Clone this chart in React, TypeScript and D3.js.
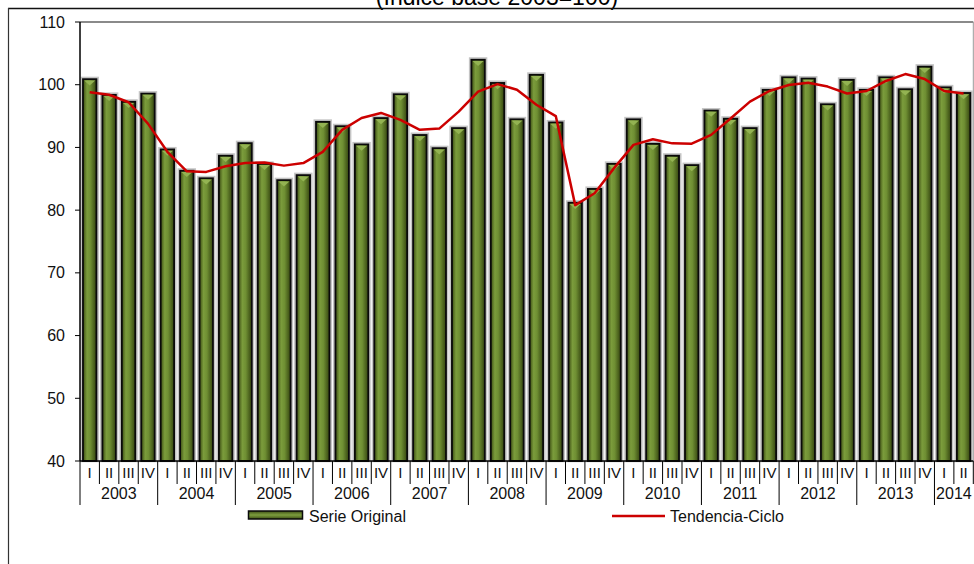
import * as d3 from "d3";

const years = ["2003", "2004", "2005", "2006", "2007", "2008", "2009", "2010", "2011", "2012", "2013", "2014"];
const quarters = ["I", "II", "III", "IV"];
const serieOriginal = [
  101.0, 98.5, 97.4, 98.7, 89.8, 86.4, 85.2, 88.8, 90.8, 87.5, 84.9, 85.7,
  94.2, 93.5, 90.6, 94.8, 98.6, 92.1, 90.0, 93.2, 104.1, 100.4, 94.6, 101.7,
  94.1, 81.3, 83.5, 87.5, 94.6, 90.7, 88.8, 87.3, 96.0, 94.7, 93.2, 99.3,
  101.3, 101.1, 97.0, 100.9, 99.3, 101.3, 99.4, 103.0, 99.7, 98.8,
];
const tendenciaCiclo = [
  98.8, 98.4, 97.2, 93.8, 89.3, 86.2, 86.1, 87.0, 87.5, 87.6, 87.1, 87.5,
  89.3, 92.8, 94.7, 95.5, 94.4, 92.8, 93.0, 95.7, 98.9, 100.1, 99.2, 96.8,
  95.0, 80.8, 82.7, 86.7, 90.4, 91.3, 90.65, 90.6, 92.0, 94.6, 97.3, 99.0,
  99.95, 100.3, 99.7, 98.6, 99.0, 100.6, 101.7, 100.9, 99.0, 98.6,
];
const yTicks = [40, 50, 60, 70, 80, 90, 100, 110];

const W = 974;
const H = 564;
const left = 80;
const right = 973.3;
const top = 22;
const bottom = 461;

const App = () => {
  const n = serieOriginal.length;
  const idx = d3.range(n);
  const x = d3.scaleBand<number>().domain(idx).range([left, right]).paddingInner(0.23).paddingOuter(0.115);
  const edge = d3.scaleLinear().domain([0, n]).range([left, right]);
  const y = d3.scaleLinear().domain([40, 110]).range([bottom, top]);
  const bw = x.bandwidth();

  const line = d3
    .line<number>()
    .x((_, i) => x(i)! + bw / 2)
    .y((d) => y(d));

  const font = "'Liberation Sans', Arial, sans-serif";

  return (
    <svg width={W} height={H} style={{ position: "fixed", left: 0, top: 0, background: "#fff" }} fontFamily={font}>
      <defs>
        <linearGradient id="barGrad" x1="0" x2="1" y1="0" y2="0">
          <stop offset="0%" stopColor="#3a4b12" />
          <stop offset="30%" stopColor="#7b9c3c" />
          <stop offset="55%" stopColor="#6f8f33" />
          <stop offset="100%" stopColor="#34440f" />
        </linearGradient>
        <linearGradient id="legGrad" x1="0" x2="0" y1="0" y2="1">
          <stop offset="0%" stopColor="#3d4f15" />
          <stop offset="50%" stopColor="#7d9e3e" />
          <stop offset="100%" stopColor="#3d4f15" />
        </linearGradient>
      </defs>

      {/* titulo recortado y marco */}
      <text x={497} y={5} textAnchor="middle" fontSize={23} fill="#000">
        (Índice base 2003=100)
      </text>
      <line x1={8} x2={W} y1={8.5} y2={8.5} stroke="#111" strokeWidth={1.5} />
      <line x1={8.5} x2={8.5} y1={8} y2={H} stroke="#333" strokeWidth={1.2} />

      {/* borde del área de trazado */}
      <line x1={left} x2={right} y1={top} y2={top} stroke="#8a8a8a" strokeWidth={2} />
      <line x1={right} x2={right} y1={top} y2={bottom} stroke="#9a9a9a" strokeWidth={1} />

      {/* barras */}
      {serieOriginal.map((v, i) => {
        const bx = x(i)!;
        const by = y(v);
        const bh = y(40) - by;
        return (
          <g key={i}>
            <rect x={bx - 0.5} y={by - 0.5} width={bw + 1} height={bh + 0.5} fill="none" stroke="#c4c4c4" strokeWidth={2.5} />
            <rect x={bx + 0.75} y={by + 0.75} width={bw - 1.5} height={bh - 0.75} fill="url(#barGrad)" stroke="#0a0a0a" strokeWidth={1.8} />
            <path
              d={`M${bx + 2},${by + 2} L${bx + bw - 2},${by + 2} L${bx + bw / 2},${by + 7} Z`}
              fill="#93b352"
            />
          </g>
        );
      })}

      {/* tendencia */}
      <path d={line(tendenciaCiclo) || ""} fill="none" stroke="#cc0000" strokeWidth={2.5} strokeLinejoin="round" />

      {/* eje y */}
      <line x1={left} x2={left} y1={top} y2={bottom} stroke="#000" strokeWidth={1.5} />
      {yTicks.map((t) => (
        <g key={t}>
          <line x1={left - 5} x2={left} y1={y(t)} y2={y(t)} stroke="#000" strokeWidth={1} />
          <text x={65} y={y(t)} dy="0.35em" textAnchor="end" fontSize={16} fill="#111">
            {t}
          </text>
        </g>
      ))}

      {/* eje x */}
      <line x1={left} x2={right} y1={bottom} y2={bottom} stroke="#000" strokeWidth={1.5} />
      {d3.range(n + 1).map((k) => (
        <line
          key={k}
          x1={edge(k)}
          x2={edge(k)}
          y1={bottom}
          y2={k % 4 === 0 && k < n ? 505 : 484}
          stroke="#000"
          strokeWidth={1}
        />
      ))}
      {idx.map((i) => (
        <text key={i} x={(edge(i) + edge(i + 1)) / 2} y={477.5} textAnchor="middle" fontSize={15} fill="#111">
          {quarters[i % 4]}
        </text>
      ))}
      {years.map((yr, j) => {
        const a = edge(j * 4);
        const b = edge(Math.min(j * 4 + 4, n));
        return (
          <text key={yr} x={(a + b) / 2} y={499} textAnchor="middle" fontSize={16} fill="#111">
            {yr}
          </text>
        );
      })}

      {/* leyenda */}
      <rect x={248.5} y={511} width={54} height={8} fill="url(#legGrad)" stroke="#0a0a0a" strokeWidth={1.5} />
      <text x={309} y={521.5} fontSize={16} fill="#111">
        Serie Original
      </text>
      <line x1={612} x2={665} y1={516} y2={516} stroke="#cc0000" strokeWidth={2.5} />
      <text x={670} y={521.5} fontSize={16} fill="#111">
        Tendencia-Ciclo
      </text>
    </svg>
  );
};

export default App;
